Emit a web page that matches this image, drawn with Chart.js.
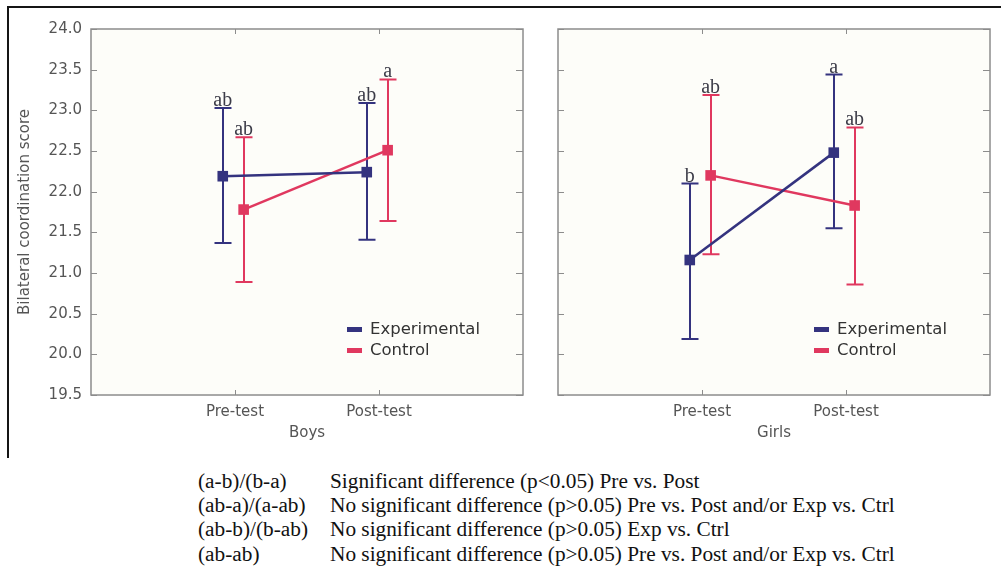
<!DOCTYPE html>
<html>
<head>
<meta charset="utf-8">
<script src="https://cdn.jsdelivr.net/npm/chart.js@4.4.1/dist/chart.umd.min.js"></script>
<style>
  html, body { margin: 0; padding: 0; background: #fff; }
  body { width: 1007px; height: 567px; position: relative; overflow: hidden; }
  .panel { position: absolute; top: 0; }
  #boys  { left: 0; }
  #girls { left: 530px; }
  .frame { position: absolute; left: 7px; top: 6px; width: 992px; height: 450px;
           border-top: 2px solid #151515; border-left: 2px solid #151515; pointer-events: none; }
  .notes { position: absolute; left: 0; top: 469px; font-family: 'Liberation Serif', 'Times New Roman', serif;
           font-size: 21.3px; color: #111; }
  .notes div { position: relative; width: 1007px; height: 24.2px; line-height: 24.2px; white-space: nowrap; }
  .notes .k { position: absolute; left: 198px; }
  .notes .v { position: absolute; left: 330px; }
</style>
</head>
<body>
<canvas id="boys" class="panel" width="540" height="460"></canvas>
<canvas id="girls" class="panel" width="477" height="460"></canvas>
<div class="frame"></div>
<div class="notes" id="notes"></div>

<script>
// Data
const groups = ['Pre-test', 'Post-test'];
const seriesNames = ['Experimental', 'Control'];

const boysExpMean  = [22.19, 22.24];
const boysExpLow   = [21.37, 21.41];
const boysExpHigh  = [23.03, 23.09];
const boysExpSig   = ['ab', 'ab'];
const boysCtrlMean = [21.78, 22.51];
const boysCtrlLow  = [20.89, 21.64];
const boysCtrlHigh = [22.67, 23.38];
const boysCtrlSig  = ['ab', 'a'];

const girlsExpMean  = [21.16, 22.48];
const girlsExpLow   = [20.19, 21.55];
const girlsExpHigh  = [22.10, 23.44];
const girlsExpSig   = ['b', 'a'];
const girlsCtrlMean = [22.20, 21.83];
const girlsCtrlLow  = [21.23, 20.86];
const girlsCtrlHigh = [23.19, 22.79];
const girlsCtrlSig  = ['ab', 'ab'];

const noteKeys = ['(a-b)/(b-a)', '(ab-a)/(a-ab)', '(ab-b)/(b-ab)', '(ab-ab)'];
const noteTexts = [
  'Significant difference (p<0.05) Pre vs. Post',
  'No significant difference (p>0.05) Pre vs. Post and/or Exp vs. Ctrl',
  'No significant difference (p>0.05) Exp vs. Ctrl',
  'No significant difference (p>0.05) Pre vs. Post and/or Exp vs. Ctrl',
];

const EXP_COLOR  = '#34337f';
const CTRL_COLOR = '#e0385f';
const EXP_SHIFT  = -0.085;
const CTRL_SHIFT = 0.06;

// panel background, border, inner ticks, error bars
const panelDecor = {
  id: 'panelDecor',
  beforeDraw(chart) {
    const { ctx, chartArea: a } = chart;
    ctx.save();
    ctx.fillStyle = '#fdfdf9';
    ctx.fillRect(a.left, a.top, a.right - a.left, a.bottom - a.top);
    ctx.restore();
  },
  beforeDatasetsDraw(chart) {
    const { ctx, chartArea: a, scales: { x, y } } = chart;
    ctx.save();
    ctx.strokeStyle = '#8c8c8c';
    ctx.lineWidth = 1.5;
    ctx.strokeRect(a.left, a.top, a.right - a.left, a.bottom - a.top);

    ctx.lineWidth = 1;
    ctx.beginPath();
    y.ticks.forEach(t => {
      const py = Math.round(y.getPixelForValue(t.value)) + 0.5;
      ctx.moveTo(a.right - 7, py); ctx.lineTo(a.right, py);
      ctx.moveTo(a.left, py); ctx.lineTo(a.left + 6, py);
    });
    x.ticks.forEach(t => {
      const px = Math.round(x.getPixelForValue(t.value)) + 0.5;
      ctx.moveTo(px, a.top); ctx.lineTo(px, a.top + 5);
      ctx.moveTo(px, a.bottom - 5); ctx.lineTo(px, a.bottom);
    });
    ctx.stroke();

    // error bars
    chart.data.datasets.forEach(ds => {
      ctx.strokeStyle = ds.borderColor;
      ctx.lineWidth = 2;
      ds.data.forEach((pt, i) => {
        const px = Math.round(x.getPixelForValue(pt.x));
        const lo = y.getPixelForValue(ds.errLow[i]);
        const hi = y.getPixelForValue(ds.errHigh[i]);
        ctx.beginPath();
        ctx.moveTo(px, lo); ctx.lineTo(px, hi);
        ctx.moveTo(px - 8.5, lo); ctx.lineTo(px + 8.5, lo);
        ctx.moveTo(px - 8.5, hi); ctx.lineTo(px + 8.5, hi);
        ctx.stroke();
      });
    });
    ctx.restore();
  },
  afterDatasetsDraw(chart) {
    const { ctx, chartArea: a, scales: { x, y } } = chart;
    ctx.save();
    // significance letters
    ctx.font = '20px "Liberation Serif", serif';
    ctx.textAlign = 'center';
    ctx.textBaseline = 'alphabetic';
    ctx.fillStyle = '#3c3c48';
    chart.data.datasets.forEach(ds => {
      ds.data.forEach((pt, i) => {
        ctx.fillText(ds.sig[i], x.getPixelForValue(pt.x), y.getPixelForValue(ds.errHigh[i]) - 2);
      });
    });
    // legend
    const lx = a.left + 256, ly = a.top + 300;
    ctx.textAlign = 'left';
    ctx.textBaseline = 'middle';
    ctx.font = '16.5px "DejaVu Sans", sans-serif';
    chart.data.datasets.forEach((ds, di) => {
      const cy = ly + di * 21;
      ctx.fillStyle = ds.borderColor;
      ctx.fillRect(lx, cy - 2, 15, 5);
      ctx.fillStyle = '#333';
      ctx.fillText(ds.label, lx + 23, cy + 1);
    });
    ctx.restore();
  },
};

function series(label, color, shift, mean, low, high, sig) {
  return {
    label,
    data: mean.map((v, i) => ({ x: i + 1 + shift, y: v })),
    errLow: low, errHigh: high, sig,
    borderColor: color,
    backgroundColor: color,
    borderWidth: 2.5,
    tension: 0,
    pointStyle: 'rect',
    pointRadius: 7.5,
    pointBorderWidth: 0,
    pointBackgroundColor: color,
  };
}

function makePanel(id, title, datasets, isFirst) {
  const tickFont = { family: 'DejaVu Sans', size: 15 };
  new Chart(document.getElementById(id), {
    type: 'line',
    data: { datasets },
    options: {
      responsive: false,
      animation: false,
      layout: { padding: { top: 29, right: 17, left: 0, bottom: 0 } },
      plugins: {
        legend: { display: false },
        tooltip: { enabled: false },
      },
      scales: {
        x: {
          type: 'linear', min: 0, max: 3,
          afterBuildTicks: s => { s.ticks = groups.map((g, i) => ({ value: i + 1 })); },
          ticks: { callback: v => groups[v - 1] ?? '', color: '#555', font: tickFont, padding: 8, autoSkip: false, maxRotation: 0 },
          grid: { display: false, drawTicks: false },
          border: { display: false },
          title: { display: true, text: title, color: '#555', font: { family: 'DejaVu Sans', size: 15 }, padding: { top: 0, bottom: 18 } },
          afterFit: s => { s.height = 65; },
        },
        y: {
          type: 'linear', min: 19.5, max: 24,
          ticks: { display: isFirst, stepSize: 0.5, callback: v => v.toFixed(1), color: '#555', font: tickFont, padding: 9 },
          grid: { display: false, drawTicks: false },
          border: { display: false },
          title: { display: isFirst, text: 'Bilateral coordination score', color: '#555', font: { family: 'DejaVu Sans', size: 15 }, padding: { top: 16, bottom: 0 } },
          afterFit: s => { s.width = isFirst ? 91 : 28; },
        },
      },
    },
    plugins: [panelDecor],
  });
}

makePanel('boys', 'Boys', [
  series(seriesNames[0], EXP_COLOR, EXP_SHIFT, boysExpMean, boysExpLow, boysExpHigh, boysExpSig),
  series(seriesNames[1], CTRL_COLOR, CTRL_SHIFT, boysCtrlMean, boysCtrlLow, boysCtrlHigh, boysCtrlSig),
], true);

makePanel('girls', 'Girls', [
  series(seriesNames[0], EXP_COLOR, EXP_SHIFT, girlsExpMean, girlsExpLow, girlsExpHigh, girlsExpSig),
  series(seriesNames[1], CTRL_COLOR, CTRL_SHIFT, girlsCtrlMean, girlsCtrlLow, girlsCtrlHigh, girlsCtrlSig),
], false);

// legend notes below the figure
document.getElementById('notes').innerHTML = noteKeys.map((k, i) =>
  `<div><span class="k">${k}</span><span class="v">${noteTexts[i].replace(/</g, '&lt;').replace(/>/g, '&gt;')}</span></div>`
).join('');
</script>
</body>
</html>
